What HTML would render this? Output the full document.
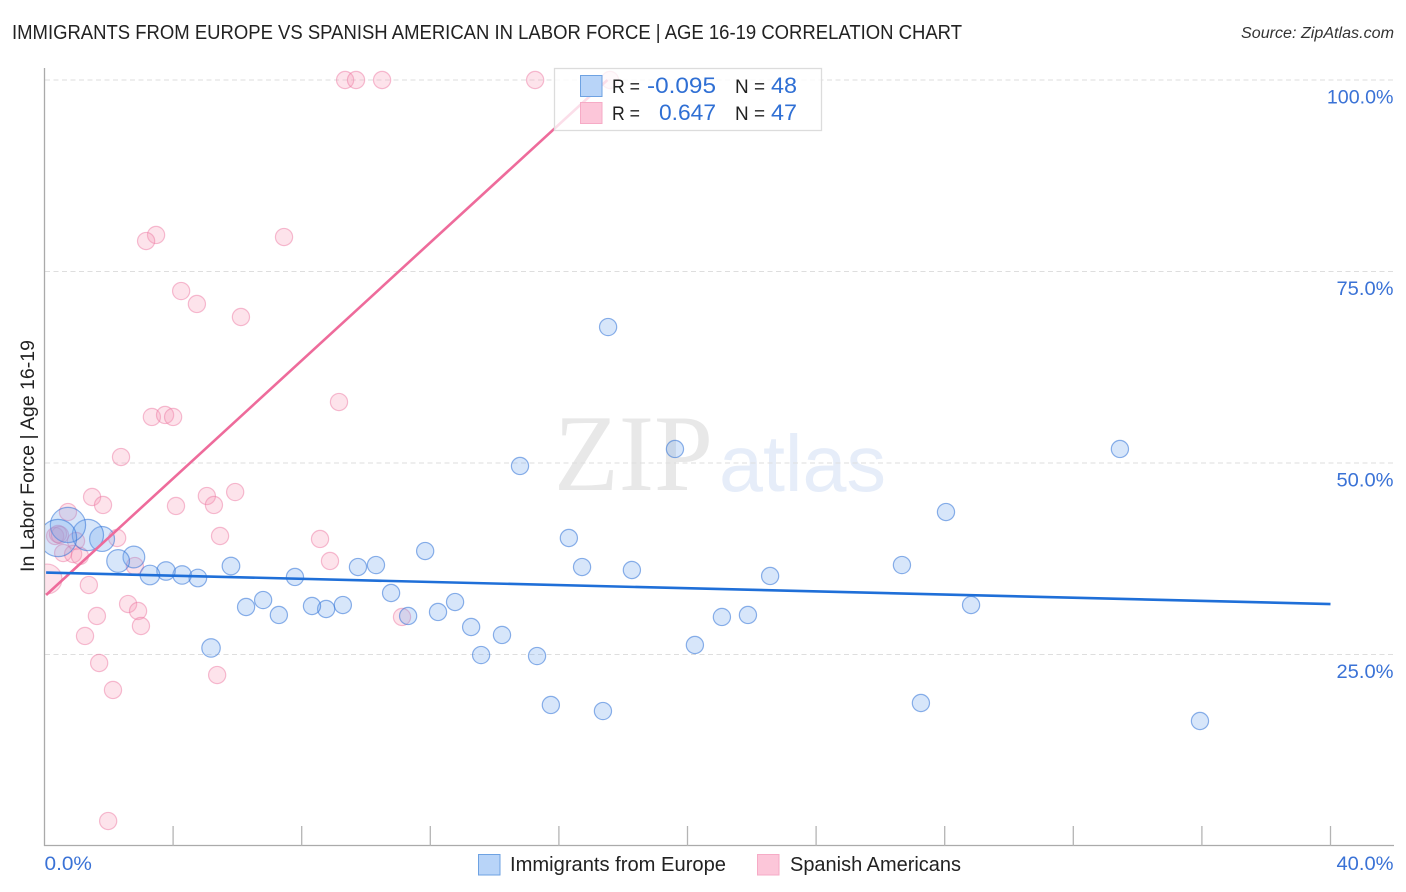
<!DOCTYPE html>
<html lang="en">
<head>
<meta charset="utf-8">
<title>Immigrants from Europe vs Spanish American in Labor Force | Age 16-19 Correlation Chart</title>
<style>
html,body{margin:0;padding:0;background:#fff;width:1406px;height:892px;overflow:hidden}
svg{display:block;font-family:"Liberation Sans",sans-serif}
</style>
</head>
<body>
<svg id="chart" xmlns="http://www.w3.org/2000/svg" width="1406" height="892" viewBox="0 0 1406 892">
  <defs>
    <clipPath id="plot-clip"><rect x="45" y="60" width="1350" height="786"/></clipPath>
  </defs>
  <text x="12" y="39" font-size="20" fill="#222" textLength="950" lengthAdjust="spacingAndGlyphs">IMMIGRANTS FROM EUROPE VS SPANISH AMERICAN IN LABOR FORCE | AGE 16-19 CORRELATION CHART</text>
  <text x="1394" y="38" font-size="15.5" font-style="italic" fill="#333" text-anchor="end" textLength="153" lengthAdjust="spacingAndGlyphs">Source: ZipAtlas.com</text>

  <g>
    <text x="554" y="490" font-family="'Liberation Serif',serif" font-size="109" fill="#e8e8e8" textLength="159" lengthAdjust="spacingAndGlyphs">ZIP</text>
    <text x="719" y="491" font-size="80" fill="#e6edf9" textLength="167" lengthAdjust="spacingAndGlyphs">atlas</text>
  </g>

  <g id="grid"></g>
  <g id="axes"></g>
  <g id="marks" clip-path="url(#plot-clip)"></g>
  <g id="ticklabels"></g>

  <text transform="translate(34,456) rotate(-90)" font-size="19.5" fill="#222" text-anchor="middle" textLength="232" lengthAdjust="spacingAndGlyphs">In Labor Force | Age 16-19</text>

  <g>
    <rect x="554.5" y="68.5" width="267" height="62" fill="#fff" fill-opacity="0.78" stroke="#dcdcdc" stroke-width="1.3"/>
    <rect x="580.5" y="75.5" width="21.5" height="21" fill="#b8d4f8" stroke="#6ea2e2" stroke-width="1"/>
    <rect x="580.5" y="102.5" width="21.5" height="21" fill="#fcc6d9" stroke="#f6abc6" stroke-width="1"/>
    <text x="612" y="93" font-size="19.5" fill="#222" textLength="28" lengthAdjust="spacingAndGlyphs">R =</text>
    <text x="647" y="93" font-size="22" fill="#2f6fd4" textLength="69" lengthAdjust="spacingAndGlyphs">-0.095</text>
    <text x="735" y="93" font-size="19.5" fill="#222" textLength="30" lengthAdjust="spacingAndGlyphs">N =</text>
    <text x="771" y="93" font-size="22" fill="#2f6fd4" textLength="26" lengthAdjust="spacingAndGlyphs">48</text>
    <text x="612" y="120" font-size="19.5" fill="#222" textLength="28" lengthAdjust="spacingAndGlyphs">R =</text>
    <text x="659" y="120" font-size="22" fill="#2f6fd4" textLength="57" lengthAdjust="spacingAndGlyphs">0.647</text>
    <text x="735" y="120" font-size="19.5" fill="#222" textLength="30" lengthAdjust="spacingAndGlyphs">N =</text>
    <text x="771" y="120" font-size="22" fill="#2f6fd4" textLength="26" lengthAdjust="spacingAndGlyphs">47</text>
  </g>

  <g>
    <rect x="478.5" y="854.5" width="21.5" height="20.5" fill="#b8d4f8" stroke="#6ea2e2" stroke-width="1"/>
    <text x="510" y="871" font-size="20" fill="#222" textLength="216" lengthAdjust="spacingAndGlyphs">Immigrants from Europe</text>
    <rect x="757.5" y="854.5" width="21.5" height="20.5" fill="#fcc6d9" stroke="#f6abc6" stroke-width="1"/>
    <text x="790" y="871" font-size="20" fill="#222" textLength="171" lengthAdjust="spacingAndGlyphs">Spanish Americans</text>
  </g>
</svg>
<script>
const yTickValues = [25, 50, 75, 100];
const yTickLabels = ['25.0%', '50.0%', '75.0%', '100.0%'];
const xTickValues = [0, 4, 8, 12, 16, 20, 24, 28, 32, 36, 40];
const xEndLabels = ['0.0%', '40.0%'];

const europeX = [14.79,17.53,19.61,33.45,28.04,16.31,16.72,18.27,22.57,26.67,28.82,21.88,21.07,20.23,27.26,35.94,17.37,15.75,15.32,13.58,14.23,13.27,12.77,12.24,11.31,10.78,11.84,10.31,9.75,9.28,8.76,8.32,7.79,7.29,6.80,6.27,5.80,5.18,4.77,4.28,3.78,3.28,2.78,2.29,1.79,1.35,0.73,0.42];
const europeY = [49.61,67.75,51.83,51.83,43.60,40.21,36.42,36.03,35.25,36.68,31.46,30.16,29.90,26.24,18.67,16.32,17.62,18.41,24.80,24.93,27.55,28.59,31.85,30.55,30.03,33.03,38.51,36.68,36.42,31.46,30.94,31.33,35.12,30.16,32.11,31.20,36.55,25.85,34.99,35.38,35.90,35.38,37.73,37.21,40.08,40.60,41.91,40.21];
const europeWeight = [1,1,1,1,1,1,1,1,1,1,1,1,1,1,1,1,1,1,1,1,1,1,1,1,1,1,1,1,1,1,1,1,1,1,1,1,1.05,1.15,1.05,1.15,1.15,1.3,1.6,1.75,2.1,3.3,4.2,4.7];

const spanishX = [9.35,9.69,10.50,15.26,17.59,3.47,3.16,7.45,4.25,4.74,6.11,9.16,3.34,3.75,4.00,2.38,1.48,1.82,0.73,4.09,5.05,5.27,5.93,5.46,2.26,0.98,0.33,0.42,0.48,0.58,0.89,1.10,2.81,0.08,1.38,2.60,2.91,1.63,3.00,1.26,1.70,2.13,5.37,1.98,11.12,8.57,8.88];
const spanishY = [100,100,100,100,100,79.77,78.98,79.50,72.45,70.76,69.06,57.96,56.01,56.27,56.01,50.78,45.56,44.52,43.60,44.39,45.69,44.52,46.21,40.47,40.21,39.82,40.47,40.73,40.60,38.25,38.12,37.86,36.55,34.86,34.07,31.59,30.68,30.03,28.72,27.42,23.89,20.37,22.32,3.26,29.90,40.08,37.21];
const spanishWeight = [1,1,1,1,1,1,1,1,1,1,1,1,1,1,1,1,1,1,1,1,1,1,1,1,1,1,1,1,1,1,1,1,1,3,1,1,1,1,1,1,1,1,1,1,1,1,1];

const europeTrendX = [0.05, 40];
const europeTrendY = [35.70, 31.59];
const spanishTrendX = [0.05, 17.51];
const spanishTrendY = [32.77, 100];

const NS = 'http://www.w3.org/2000/svg';
function xScale(v) { return 44.5 + v * 32.15; }
function yScale(v) { return 846 - v * 7.66; }
function rScale(w) { return 8.6 * Math.sqrt(w); }
function make(tag, attrs, parent) {
  const el = document.createElementNS(NS, tag);
  for (const k in attrs) el.setAttribute(k, attrs[k]);
  parent.appendChild(el);
  return el;
}
function labelWidth(s) { return s.length * 9.6 + 9; }

const gridG = document.getElementById('grid');
const axesG = document.getElementById('axes');
const marksG = document.getElementById('marks');
const labelsG = document.getElementById('ticklabels');

yTickValues.forEach(function (v, i) {
  const line = make('line', {x1: 45, x2: 1394, y1: yScale(v), y2: yScale(v), stroke: '#dedede', 'stroke-width': 1, 'stroke-dasharray': '5 3.5'}, gridG);
  
  
  const t = make('text', {x: 1393.5, y: yScale(v) + 23.5, 'font-size': 19.5, fill: '#3a72d6', 'text-anchor': 'end', textLength: labelWidth(yTickLabels[i]), lengthAdjust: 'spacingAndGlyphs'}, labelsG);
  t.textContent = yTickLabels[i];
  
  
});

const yAxis = make('line', {x1: 44.5, x2: 44.5, y1: 68, y2: 846, stroke: '#aaaaaa', 'stroke-width': 1.3}, axesG);


const xAxis = make('line', {x1: 44, x2: 1394, y1: 845.5, y2: 845.5, stroke: '#aaaaaa', 'stroke-width': 1.3}, axesG);



xTickValues.slice(1).forEach(function (v) {
  const tick = make('line', {x1: xScale(v), x2: xScale(v), y1: 826, y2: 846, stroke: '#b4b4b4', 'stroke-width': 1.3}, axesG);
  
  
});

const xLabelLeft = make('text', {x: 44.5, y: 870, 'font-size': 19.5, fill: '#3a72d6', textLength: labelWidth(xEndLabels[0]), lengthAdjust: 'spacingAndGlyphs'}, labelsG);
xLabelLeft.textContent = xEndLabels[0];


const xLabelRight = make('text', {x: 1393.5, y: 870, 'font-size': 19.5, fill: '#3a72d6', 'text-anchor': 'end', textLength: labelWidth(xEndLabels[1]), lengthAdjust: 'spacingAndGlyphs'}, labelsG);
xLabelRight.textContent = xEndLabels[1];



function drawPoints(xs, ys, ws, fill, stroke, nameValue) {
  xs.forEach(function (x, i) {
    const c = make('circle', {cx: xScale(x), cy: yScale(ys[i]), r: rScale(ws[i]), fill: fill, stroke: stroke, 'stroke-width': 1.2}, marksG);
    
    
  });
}
drawPoints(spanishX, spanishY, spanishWeight, 'rgba(246,150,182,0.27)', 'rgba(236,120,160,0.48)', 'spanish-point');
drawPoints(europeX, europeY, europeWeight, 'rgba(110,165,238,0.28)', 'rgba(50,115,215,0.55)', 'europe-point');

const spanishTrend = make('line', {x1: xScale(spanishTrendX[0]), y1: yScale(spanishTrendY[0]), x2: xScale(spanishTrendX[1]), y2: yScale(spanishTrendY[1]), stroke: '#ee6b9b', 'stroke-width': 2.6}, marksG);


const europeTrend = make('line', {x1: xScale(europeTrendX[0]), y1: yScale(europeTrendY[0]), x2: xScale(europeTrendX[1]), y2: yScale(europeTrendY[1]), stroke: '#1f6fd8', 'stroke-width': 2.6}, marksG);


</script>
</body>
</html>
